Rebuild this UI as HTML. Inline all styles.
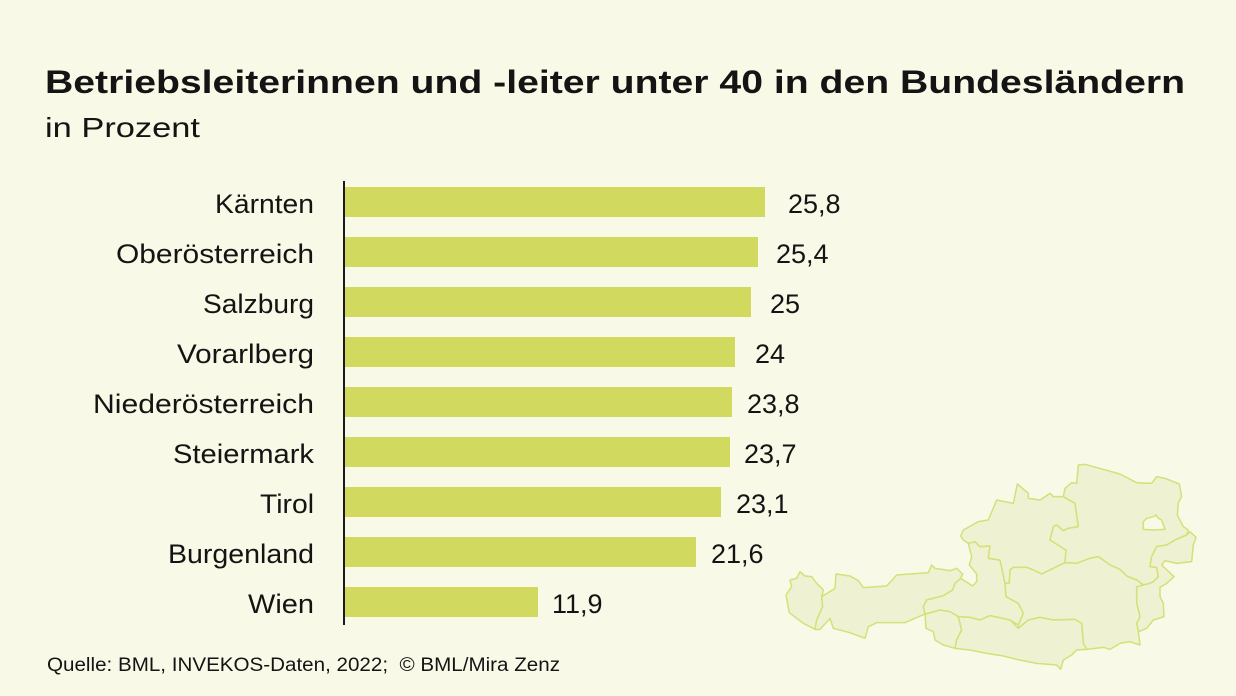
<!DOCTYPE html>
<html>
<head>
<meta charset="utf-8">
<style>
  html, body { margin: 0; padding: 0; }
  body { width: 1236px; height: 696px; overflow: hidden; background: #f8f9e7; }
  svg { display: block; }
  text { font-family: "Liberation Sans", "DejaVu Sans", sans-serif; fill: #141414; }
</style>
</head>
<body>
<svg width="1236" height="696" viewBox="0 0 1236 696" xmlns="http://www.w3.org/2000/svg">
  <rect x="0" y="0" width="1236" height="696" fill="#f8f9e7"/>

  <!-- Title -->
  <text x="45" y="93" font-size="32" font-weight="bold" textLength="1140" lengthAdjust="spacingAndGlyphs">Betriebsleiterinnen und -leiter unter 40 in den Bundesländern</text>
  <text x="45" y="137" font-size="28" textLength="155" lengthAdjust="spacingAndGlyphs">in Prozent</text>

  <!-- Map of Austria -->
  <g transform="translate(770,450) scale(0.33333)" fill="#eef2d2" stroke="#d6df78" stroke-width="4.5" stroke-linejoin="round">
    <!-- Vorarlberg -->
    <polygon points="90,365 80,385 60,390 65,410 48,435 58,488 100,520 135,538 150,538 140,510 158,470 155,440 160,420 140,400 125,380 105,378"/>
    <!-- Tirol -->
    <polygon points="155,440 195,415 198,372 240,378 265,392 280,413 350,408 380,375 475,368 485,345 495,355 540,362 560,355 578,372 572,385 555,400 548,420 520,437 470,450 460,470 465,492 405,518 320,518 295,530 285,565 240,548 190,535 180,505 150,538 135,538 140,510 158,470"/>
    <!-- Osttirol -->
    <polygon points="465,492 510,480 540,485 565,500 575,540 560,570 555,595 520,585 495,570 490,545 468,535"/>
    <!-- Salzburg -->
    <polygon points="460,470 470,450 520,437 548,420 555,400 572,385 608,408 620,395 620,372 598,345 605,320 595,280 615,275 630,290 660,288 655,325 690,330 705,400 708,440 745,460 760,490 745,525 720,510 660,497 630,510 600,502 565,500 540,485 510,480 465,492"/>
    <!-- Oberösterreich -->
    <polygon points="572,258 580,240 625,215 655,210 680,150 730,160 742,102 775,130 775,145 810,150 840,130 850,140 880,140 915,160 920,195 925,230 895,235 880,242 860,225 850,230 840,270 888,300 885,338 815,372 790,360 770,352 730,352 720,360 718,400 705,400 690,330 655,325 660,288 630,290 615,275 595,280 580,270"/>
    <!-- Niederösterreich -->
    <polygon points="880,140 885,115 905,98 920,100 925,45 945,43 1050,72 1100,98 1145,100 1160,80 1185,85 1228,102 1235,140 1225,158 1222,195 1240,230 1255,240 1250,255 1215,270 1190,285 1160,290 1145,320 1140,350 1160,352 1165,380 1150,395 1140,400 1120,405 1100,390 1070,378 1050,358 1020,345 985,320 960,325 920,340 885,338 888,300 840,270 850,230 860,225 880,242 895,235 925,230 920,195 915,160"/>
    <!-- Burgenland -->
    <polygon points="1250,255 1260,245 1278,262 1270,285 1265,335 1220,340 1185,332 1175,345 1212,380 1190,400 1170,412 1170,440 1180,460 1182,500 1150,510 1130,535 1105,545 1100,520 1110,500 1100,460 1100,410 1120,405 1140,400 1150,395 1165,380 1160,352 1140,350 1145,320 1160,290 1190,285 1215,270"/>
    <!-- Steiermark -->
    <polygon points="718,400 720,360 730,352 770,352 790,360 815,372 885,338 920,340 960,325 985,320 1020,345 1050,358 1070,378 1100,390 1120,405 1100,410 1100,460 1110,500 1100,520 1105,545 1110,585 1080,575 1050,580 1020,598 1000,592 950,598 940,580 935,520 915,508 850,510 810,502 775,510 745,535 745,525 760,490 745,460 708,440 705,400"/>
    <!-- Kärnten -->
    <polygon points="555,595 560,570 575,540 565,500 600,502 630,510 660,497 720,510 745,535 775,510 810,502 850,510 915,508 935,520 940,580 950,598 920,600 905,615 880,630 872,658 860,645 800,640 740,628 700,618 650,610 600,600"/>
    <!-- Wien -->
    <polygon fill="#f8f9e7" points="1120,215 1130,205 1150,200 1158,195 1165,205 1175,210 1185,238 1150,240 1120,238"/>
  </g>

  <!-- Bars -->
  <g fill="#d1da5f">
    <rect x="345" y="187" width="420" height="30"/>
    <rect x="345" y="237" width="413" height="30"/>
    <rect x="345" y="287" width="406" height="30"/>
    <rect x="345" y="337" width="390" height="30"/>
    <rect x="345" y="387" width="387" height="30"/>
    <rect x="345" y="437" width="385" height="30"/>
    <rect x="345" y="487" width="376" height="30"/>
    <rect x="345" y="537" width="351" height="30"/>
    <rect x="345" y="587" width="193" height="30"/>
  </g>

  <!-- Axis -->
  <rect x="343" y="181" width="2" height="444" fill="#1a1a1a"/>

  <!-- Category labels -->
  <g font-size="27" text-anchor="end">
    <text x="314" y="213" textLength="99" lengthAdjust="spacingAndGlyphs">Kärnten</text>
    <text x="314" y="263" textLength="198" lengthAdjust="spacingAndGlyphs">Oberösterreich</text>
    <text x="314" y="313" textLength="111" lengthAdjust="spacingAndGlyphs">Salzburg</text>
    <text x="314" y="363" textLength="137" lengthAdjust="spacingAndGlyphs">Vorarlberg</text>
    <text x="314" y="413" textLength="221" lengthAdjust="spacingAndGlyphs">Niederösterreich</text>
    <text x="314" y="463" textLength="141" lengthAdjust="spacingAndGlyphs">Steiermark</text>
    <text x="314" y="513" textLength="54" lengthAdjust="spacingAndGlyphs">Tirol</text>
    <text x="314" y="563" textLength="146" lengthAdjust="spacingAndGlyphs">Burgenland</text>
    <text x="314" y="613" textLength="66" lengthAdjust="spacingAndGlyphs">Wien</text>
  </g>

  <!-- Values -->
  <g font-size="27">
    <text x="788" y="213">25,8</text>
    <text x="776" y="263">25,4</text>
    <text x="770" y="313">25</text>
    <text x="755" y="363">24</text>
    <text x="747" y="413">23,8</text>
    <text x="744" y="463">23,7</text>
    <text x="736" y="513">23,1</text>
    <text x="711" y="563">21,6</text>
    <text x="552" y="613">11,9</text>
  </g>

  <!-- Footer -->
  <text x="47" y="671" font-size="19" textLength="513" lengthAdjust="spacingAndGlyphs" xml:space="preserve">Quelle: BML, INVEKOS-Daten, 2022;  © BML/Mira Zenz</text>
</svg>
</body>
</html>
